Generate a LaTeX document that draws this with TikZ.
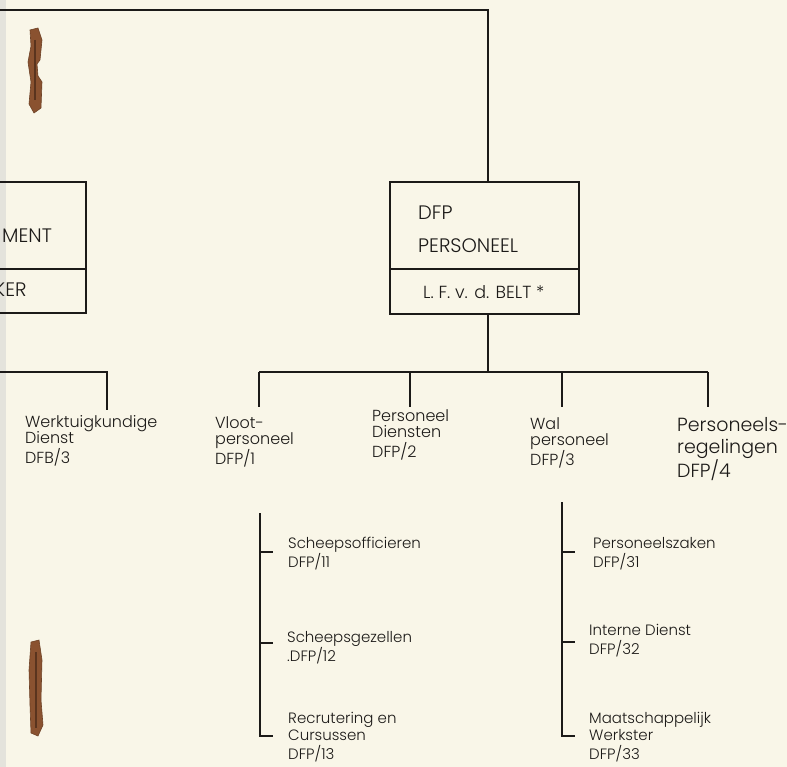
\documentclass[tikz,border=0pt]{standalone}
\usepackage{fontspec}
\setmainfont{Poppins Light}
\newcommand{\stk}[1]{\begin{tabular}[t]{@{}l@{}}#1\end{tabular}}
\begin{document}
\begin{tikzpicture}[x=1pt,y=-1pt]
\definecolor{paper}{RGB}{249,246,232}
\definecolor{ink}{RGB}{28,26,24}
\definecolor{rust}{RGB}{138,82,48}
\definecolor{rustdark}{RGB}{90,52,30}
\definecolor{edge}{RGB}{228,227,220}
\tikzset{
  lbl/.style={anchor=base west, inner sep=0pt, text=ink, font=\fontsize{16}{16.5}\selectfont},
  big/.style={anchor=base west, inner sep=0pt, text=ink, font=\fontsize{19}{22}\selectfont},
  sub/.style={anchor=base west, inner sep=0pt, text=ink, font=\fontsize{15}{17.3}\selectfont},
  btxt/.style={anchor=base west, inner sep=0pt, text=ink, font=\fontsize{19.5}{21}\selectfont},
  stxt/.style={anchor=base west, inner sep=0pt, text=ink, font=\fontsize{17.5}{19}\selectfont},
  link/.style={draw=ink, line width=1.9pt},
  frame/.style={draw=ink, line width=1.9pt, inner sep=0pt},
  staple/.style={fill=rust, draw=rust!80!black, line width=0.6pt},
}
\fill[paper] (0,0) rectangle (787,767);
\useasboundingbox (0,0) rectangle (787,767);
\clip (0,0) rectangle (787,767);
\fill[edge] (0,0) rectangle (6,767);

% staple marks
\path[staple] (30,30) -- (38,28) -- (42,40) -- (40,60) -- (37,64) -- (38,76) -- (42,82) -- (41,108) -- (34,113) -- (29,104) -- (31,82) -- (28,62) -- (31,46) -- cycle;
\draw[rustdark, line width=1.5pt] (35,40) -- (35,100);
\path[staple] (31,642) -- (39,640) -- (42,660) -- (41,700) -- (43,725) -- (38,736) -- (31,733) -- (30,705) -- (29,670) -- cycle;
\draw[rustdark, line width=1.5pt] (36,652) -- (36,728);

% main box
\node[frame, minimum width=189pt, minimum height=132pt] (dfp) at (484.5,248) {};
\draw[link] ([yshift=-21pt]dfp.west) -- ([yshift=-21pt]dfp.east);
\node[btxt] (t1) at (418,220) {DFP};
\node[btxt] (t2) at (418,253) {PERSONEEL};
\node[stxt] (t3) at (423,299) {L. F. v. d. BELT *};

% left (cut) box
\node[frame, minimum width=110pt, minimum height=131pt] (dfm) at (31,247.5) {};
\draw[link] ([yshift=-21.5pt]dfm.west) -- ([yshift=-21.5pt]dfm.east);
\node[btxt] (m1) at (2,243) {MENT};
\node[btxt] (m2) at (-6,297) {KER};

% top line
\coordinate (tl) at (0,10);
\draw[link] (tl) -| ([xshift=3.5pt]dfp.north);

% bar
\coordinate (bar) at (488,372);
\coordinate (vt) at (259,372);
\coordinate (pt) at (410,372);
\coordinate (wt) at (562,372);
\coordinate (rt) at (708,372);
\draw[link] ([xshift=3.5pt]dfp.south) -- (bar);
\draw[link] (vt) -- (rt);
\coordinate (vb) at (259,407);
\coordinate (pb) at (410,407);
\coordinate (wb) at (562,407);
\coordinate (rb) at (708,407);
\draw[link] (vt) -- (vb);
\draw[link] (pt) -- (pb);
\draw[link] (wt) -- (wb);
\draw[link] (rt) -- (rb);

% left branch
\coordinate (ll) at (0,372);
\coordinate (lc) at (107,372);
\coordinate (lb) at (107,410);
\draw[link] (ll) -- (lc) -- (lb);

% first row labels
\node[lbl] (werk) at (25,427) {\stk{Werktuigkundige\\Dienst\\DFB/3}};
\node[lbl] (vloot) at (215,428) {\stk{Vloot-\\personeel\\DFP/1}};
\node[lbl] (pdien) at (372,421) {\stk{Personeel\\Diensten\\DFP/2}};
\node[lbl] (wal) at (530,429) {\stk{Wal\\personeel\\DFP/3}};
\node[big] (preg) at (677,431) {\stk{Personeels-\\regelingen\\DFP/4}};

% sub-lists
\coordinate (lvt) at (260,513);
\coordinate (lvb) at (260,736);
\draw[link] (lvt) -- (lvb) -- ++(13,0);
\draw[link] (260,552) -- ++(13,0);
\draw[link] (260,643) -- ++(13,0);
\coordinate (rvt) at (562,502);
\coordinate (rvb) at (562,736);
\draw[link] (rvt) -- (rvb) -- ++(13,0);
\draw[link] (562,552) -- ++(13,0);
\draw[link] (562,642) -- ++(13,0);

\node[sub] (s11) at (288,548) {\stk{Scheepsofficieren\\DFP/11}};
\node[sub] (s12) at (287,642) {\stk{Scheepsgezellen\\.DFP/12}};
\node[sub] (s13) at (288,723) {\stk{Recrutering en\\Cursussen\\DFP/13}};
\node[sub] (s31) at (593,548) {\stk{Personeelszaken\\DFP/31}};
\node[sub] (s32) at (589,635) {\stk{Interne Dienst\\DFP/32}};
\node[sub] (s33) at (589,723) {\stk{Maatschappelijk\\Werkster\\DFP/33}};
\end{tikzpicture}
\end{document}
